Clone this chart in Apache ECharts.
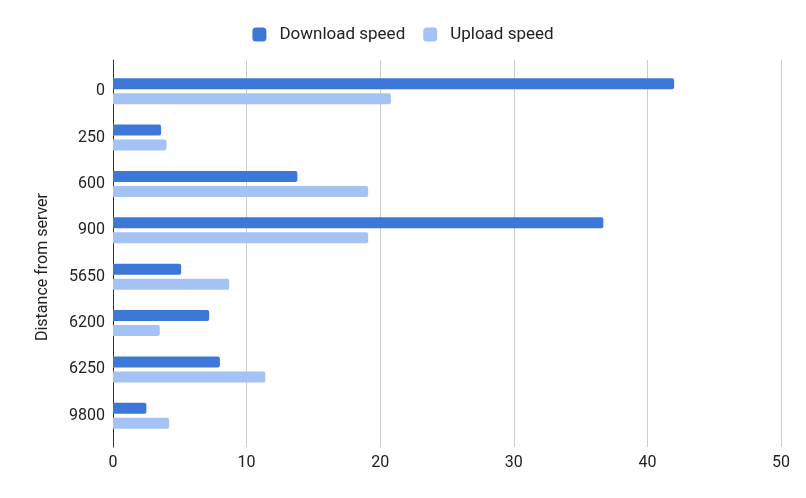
<!DOCTYPE html>
<html>
<head>
<meta charset="utf-8">
<script src="https://cdn.jsdelivr.net/npm/echarts@6/dist/echarts.min.js"></script>
<style>html,body{margin:0;padding:0;background:#fff}#c{width:806px;height:498px}</style>
</head>
<body>
<div id="c"></div>
<script>
const categories = ['0', '250', '600', '900', '5650', '6200', '6250', '9800'];
const downloadSpeed = [42.0, 3.6, 13.8, 36.7, 5.1, 7.2, 8.0, 2.5];
const uploadSpeed = [20.8, 4.0, 19.1, 19.1, 8.7, 3.5, 11.4, 4.2];
const xTicks = [0, 10, 20, 30, 40, 50];

const chart = echarts.init(document.getElementById('c'), null, {renderer: 'canvas'});
const font = 'Roboto, Arial, sans-serif';
chart.setOption({
  animation: false,
  backgroundColor: '#fff',
  textStyle: {fontFamily: font},
  legend: {
    top: 21,
    left: 'center',
    icon: 'roundRect',
    itemWidth: 14,
    itemHeight: 14,
    itemGap: 18,
    textStyle: {fontSize: 17, color: '#222', fontFamily: font, padding: [0, 0, 0, 8]},
    data: ['Download speed', 'Upload speed']
  },
  grid: [
    {left: 113, right: 25, top: 60, bottom: 51, containLabel: false},
    {left: 113, right: 25, top: 68, bottom: 59, containLabel: false}
  ],
  xAxis: [
    {
      type: 'value', gridIndex: 0,
      min: xTicks[0], max: xTicks[xTicks.length - 1], interval: 10,
      axisLine: {show: false}, axisTick: {show: false},
      splitLine: {show: true, lineStyle: {color: '#cccccc', width: 1}},
      axisLabel: {color: '#222', fontSize: 16, margin: 8, fontFamily: font}
    },
    {
      type: 'value', gridIndex: 1,
      min: xTicks[0], max: xTicks[xTicks.length - 1], interval: 10,
      show: false
    }
  ],
  yAxis: [
    {
      type: 'value', gridIndex: 0,
      axisLine: {show: true, onZero: false, lineStyle: {color: '#333', width: 1}},
      axisTick: {show: false}, axisLabel: {show: false}, splitLine: {show: false},
      name: 'Distance from server', nameLocation: 'middle', nameGap: 62, nameRotate: 90,
      nameTextStyle: {color: '#222', fontSize: 16, fontFamily: font, padding: [0, 27, 0, 0]}
    },
    {
      type: 'category', gridIndex: 1, inverse: true,
      data: categories,
      axisLine: {show: false}, axisTick: {show: false}, splitLine: {show: false},
      axisLabel: {color: '#222', fontSize: 16, margin: 8, fontFamily: font}
    }
  ],
  series: [
    {
      name: 'Download speed', type: 'bar', xAxisIndex: 1, yAxisIndex: 1,
      data: downloadSpeed, barWidth: 11, barGap: '36%',
      itemStyle: {color: '#3c78d8', borderRadius: [0, 2, 2, 0]}
    },
    {
      name: 'Upload speed', type: 'bar', xAxisIndex: 1, yAxisIndex: 1,
      data: uploadSpeed, barWidth: 11, barGap: '36%',
      itemStyle: {color: '#a4c2f4', borderRadius: [0, 2, 2, 0]}
    }
  ]
});
</script>
</body>
</html>
